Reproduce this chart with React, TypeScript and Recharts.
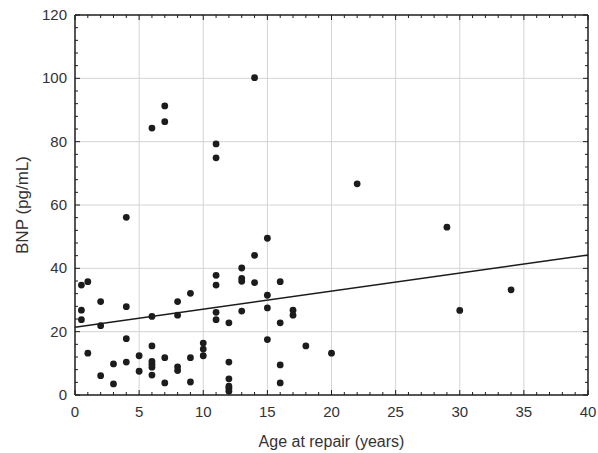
import React from 'react';
import { ScatterChart, Scatter, XAxis, YAxis, ReferenceLine } from 'recharts';

const ages = [
  0.5, 0.5, 0.5, 1, 1,
  2, 2, 2,
  3, 3,
  4, 4, 4, 4,
  5, 5,
  6, 6, 6, 6, 6, 6, 6,
  7, 7, 7, 7,
  8, 8, 8, 8,
  9, 9, 9,
  10, 10, 10,
  11, 11, 11, 11, 11, 11,
  12, 12, 12, 12, 12, 12,
  13, 13, 13, 13,
  14, 14, 14,
  15, 15, 15, 15,
  16, 16, 16, 16,
  17, 17,
  18, 20, 22, 29, 30, 34,
];

const bnp = [
  34.7, 26.8, 23.8, 35.8, 13.2,
  29.5, 21.9, 6.1,
  9.8, 3.5,
  56.1, 27.9, 17.8, 10.4,
  12.4, 7.5,
  84.3, 24.8, 15.5, 10.6, 9.7, 8.8, 6.3,
  91.3, 86.3, 11.8, 3.8,
  29.5, 25.2, 8.9, 7.7,
  32.1, 11.8, 4.1,
  16.4, 14.5, 12.4,
  79.3, 74.9, 37.8, 34.7, 26.1, 23.8,
  22.8, 10.4, 5.1, 2.8, 2.1, 1.2,
  40.1, 36.8, 35.9, 26.5,
  100.2, 44.1, 35.5,
  49.5, 31.5, 27.5, 17.5,
  35.8, 22.8, 9.5, 3.8,
  26.8, 25.2,
  15.5, 13.2, 66.7, 53, 26.7, 33.2,
];

// fitted line end points
const fitAges = [0, 40];
const fitBnp = [21.4, 44.2];

const xTicks = Array.from({ length: 41 }, (_, i) => i);
const yTicks = Array.from({ length: 31 }, (_, i) => i * 4);
const xMajor = [5, 10, 15, 20, 25, 30, 35];
const yMajor = [20, 40, 60, 80, 100];

const points = ages.map((a, i) => ({ age: a, bnp: bnp[i] }));
const fit = fitAges.map((a, i) => ({ age: a, bnp: fitBnp[i] }));

const FONT = 'Liberation Sans, Arial, sans-serif';
const INK = '#1c1c1c';

const BottomTick = ({ x, y, payload }: any) => {
  const major = payload.value % 5 === 0;
  return (
    <g>
      <line x1={x} y1={y} x2={x} y2={y - (major ? 5 : 3)} stroke={INK} strokeWidth={1} />
      {major && (
        <text x={x} y={y + 22} textAnchor="middle" fontSize={15} fill="#333" fontFamily={FONT}>
          {payload.value}
        </text>
      )}
    </g>
  );
};

const TopTick = ({ x, y, payload }: any) => {
  const major = payload.value % 5 === 0;
  return <line x1={x} y1={y} x2={x} y2={y + (major ? 5 : 3)} stroke={INK} strokeWidth={1} />;
};

const LeftTick = ({ x, y, payload }: any) => {
  const major = payload.value % 20 === 0;
  return (
    <g>
      <line x1={x} y1={y} x2={x + (major ? 5 : 3)} y2={y} stroke={INK} strokeWidth={1} />
      {major && (
        <text x={x - 8} y={y + 5} textAnchor="end" fontSize={15} fill="#333" fontFamily={FONT}>
          {payload.value}
        </text>
      )}
    </g>
  );
};

const RightTick = ({ x, y, payload }: any) => {
  const major = payload.value % 20 === 0;
  return <line x1={x} y1={y} x2={x - (major ? 5 : 3)} y2={y} stroke={INK} strokeWidth={1} />;
};

const Dot = ({ cx, cy }: any) => <circle cx={cx} cy={cy} r={3.4} fill={INK} />;
const NoDot = () => <g />;

export default function App() {
  return (
    <div style={{ position: 'absolute', left: 0, top: 0, background: '#fff' }}>
      <ScatterChart width={598} height={453} margin={{ top: 14, right: 9, bottom: 18, left: 15 }}>
        <XAxis
          xAxisId="b"
          type="number"
          dataKey="age"
          domain={[0, 40]}
          ticks={xTicks}
          interval={0}
          tick={<BottomTick />}
          tickLine={false}
          tickSize={0}
          tickMargin={0}
          height={40}
          axisLine={{ stroke: INK, strokeWidth: 1.5 }}
          label={{ value: 'Age at repair (years)', position: 'insideBottom', offset: 0, fontSize: 16, fill: '#333', fontFamily: FONT, dy: 12 }}
        />
        <XAxis
          xAxisId="t"
          orientation="top"
          type="number"
          dataKey="age"
          domain={[0, 40]}
          ticks={xTicks}
          interval={0}
          tick={<TopTick />}
          tickLine={false}
          tickSize={0}
          tickMargin={0}
          height={1}
          axisLine={{ stroke: INK, strokeWidth: 1.5 }}
        />
        <YAxis
          yAxisId="l"
          type="number"
          dataKey="bnp"
          domain={[0, 120]}
          ticks={yTicks}
          interval={0}
          tick={<LeftTick />}
          tickLine={false}
          tickSize={0}
          tickMargin={0}
          width={60}
          axisLine={{ stroke: INK, strokeWidth: 1.5 }}
          label={{ value: 'BNP (pg/mL)', angle: -90, position: 'insideLeft', offset: 0, fontSize: 17, fill: '#333', fontFamily: FONT, dx: 7, style: { textAnchor: 'middle' } }}
        />
        <YAxis
          yAxisId="r"
          orientation="right"
          type="number"
          dataKey="bnp"
          domain={[0, 120]}
          ticks={yTicks}
          interval={0}
          tick={<RightTick />}
          tickLine={false}
          tickSize={0}
          tickMargin={0}
          width={1}
          axisLine={{ stroke: INK, strokeWidth: 1.5 }}
        />
        {xMajor.map((v) => (
          <ReferenceLine key={`gx${v}`} x={v} xAxisId="b" yAxisId="l" stroke="#d4d4d4" strokeWidth={1} />
        ))}
        {yMajor.map((v) => (
          <ReferenceLine key={`gy${v}`} y={v} xAxisId="b" yAxisId="l" stroke="#d4d4d4" strokeWidth={1} />
        ))}
        <Scatter
          data={fit}
          xAxisId="t"
          yAxisId="r"
          line={{ stroke: INK, strokeWidth: 1.5 }}
          shape={<NoDot />}
          isAnimationActive={false}
        />
        <Scatter data={points} xAxisId="b" yAxisId="l" shape={<Dot />} isAnimationActive={false} />
      </ScatterChart>
    </div>
  );
}
